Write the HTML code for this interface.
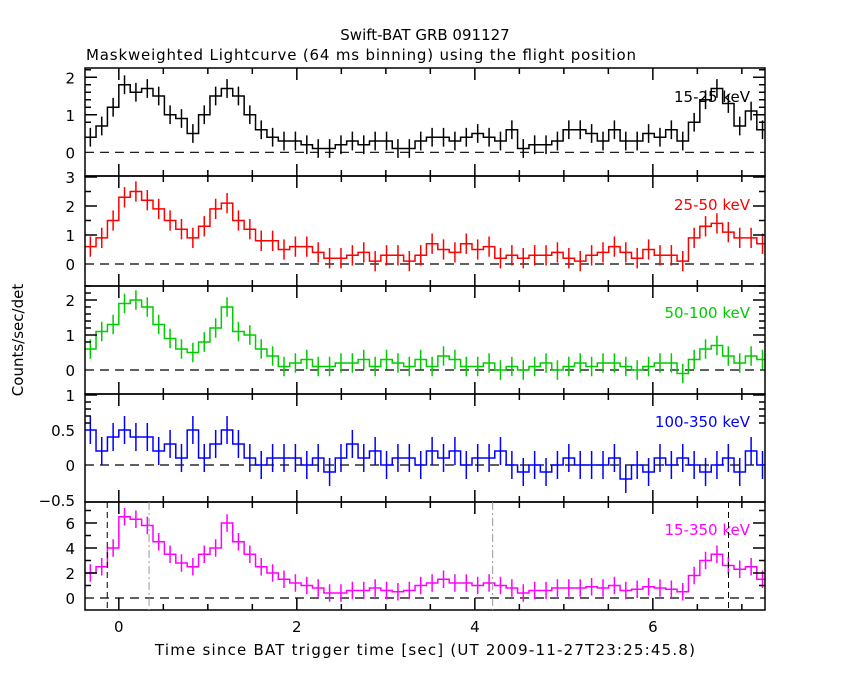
<!DOCTYPE html>
<html><head><meta charset="utf-8"><style>
body{margin:0;background:#fff}
svg text{font-family:"DejaVu Sans","Liberation Sans",sans-serif;font-size:15px}
</style></head><body>
<svg id="chart" width="850" height="680" xmlns="http://www.w3.org/2000/svg">
<rect width="850" height="680" fill="#fff"/>
<text x="425" y="40" text-anchor="middle">Swift-BAT GRB 091127</text>
<text x="86" y="60" textLength="550">Maskweighted Lightcurve (64 ms binning) using the flight position</text>
<text transform="translate(23,340) rotate(-90)" text-anchor="middle">Counts/sec/det</text>
<text x="425" y="655" text-anchor="middle" textLength="540">Time since BAT trigger time [sec] (UT 2009-11-27T23:25:45.8)</text>
<g id="plots"></g>
</svg>
<script>
const binStart = -0.384;
const binWidth = 0.128;
const s1 = [0.4,0.7,1.2,1.8,1.6,1.7,1.5,1.0,0.9,0.5,1.0,1.5,1.7,1.5,1.0,0.6,0.4,0.3,0.3,0.2,0.1,0.1,0.2,0.3,0.2,0.3,0.3,0.1,0.1,0.3,0.4,0.4,0.3,0.4,0.5,0.4,0.3,0.6,0.1,0.2,0.2,0.3,0.6,0.6,0.5,0.3,0.6,0.3,0.3,0.5,0.4,0.6,0.3,0.8,1.4,1.7,1.3,0.7,1.1,0.6];
const s2 = [0.6,0.9,1.5,2.3,2.5,2.2,1.9,1.5,1.2,0.9,1.3,1.9,2.1,1.5,1.2,0.8,0.8,0.5,0.6,0.6,0.4,0.2,0.2,0.3,0.4,0.1,0.3,0.3,0.1,0.3,0.7,0.5,0.4,0.7,0.5,0.6,0.2,0.3,0.2,0.3,0.3,0.4,0.2,0.1,0.3,0.4,0.6,0.4,0.2,0.5,0.3,0.3,0.1,0.9,1.3,1.4,1.1,0.9,0.9,0.7];
const s3 = [0.6,1.1,1.3,1.9,2.0,1.8,1.3,0.9,0.6,0.5,0.8,1.2,1.8,1.1,1.0,0.6,0.4,0.1,0.2,0.3,0.1,0.1,0.2,0.2,0.3,0.1,0.3,0.2,0.1,0.3,0.1,0.4,0.3,0.1,0.1,0.2,0.0,0.1,0.0,0.1,0.2,0.0,0.1,0.2,0.1,0.2,0.2,0.1,0.0,0.1,0.2,0.2,-0.1,0.3,0.6,0.7,0.4,0.2,0.4,0.3];
const s4 = [0.5,0.2,0.4,0.5,0.4,0.4,0.2,0.3,0.1,0.5,0.1,0.3,0.5,0.3,0.1,0.0,0.1,0.1,0.1,0.0,0.1,-0.1,0.1,0.3,0.1,0.2,0.0,0.1,0.1,0.0,0.2,0.1,0.2,0.0,0.1,0.1,0.2,0.0,-0.1,0.0,-0.1,0.0,0.1,0.0,0.0,0.0,0.1,-0.2,0.0,-0.1,0.1,0.0,0.1,0.0,-0.1,0.0,0.1,-0.1,0.2,0.0];
const s5 = [2.0,2.5,4.0,6.5,6.3,5.8,4.5,3.5,2.8,2.5,3.5,4.0,6.0,4.5,3.5,2.5,2.0,1.5,1.2,1.0,0.8,0.4,0.4,0.6,0.6,0.8,0.6,0.5,0.6,1.0,1.2,1.5,1.2,1.2,1.0,1.2,1.0,0.8,0.4,0.6,0.6,0.8,0.8,0.8,0.9,0.8,1.0,0.6,0.7,0.9,0.8,0.7,0.5,1.8,3.0,3.5,2.6,2.3,2.5,1.5];
const errs = [0.25,0.35,0.28,0.2,0.7];
const bandLabels = ["15-25 keV","25-50 keV","50-100 keV","100-350 keV","15-350 keV"];
const yTickLabels = [[0,1,2],[0,1,2,3],[0,1,2],[-0.5,0,0.5,1],[0,2,4,6]];
const xTickLabels = [0,2,4,6];
const markerTimes = [-0.13,6.85];
const dashDotTimes = [0.34,4.2];

const NS="http://www.w3.org/2000/svg";
const g=document.getElementById('plots');
const X0=85,X1=765,T0=-0.38,T1=7.26;
const xs=t=>X0+(t-T0)/(T1-T0)*(X1-X0);
const panels=[
 {top:68,bot:176,zero:152.3,ppu:37.5,minor:0.2,col:'#000',data:s1,ly:102},
 {top:176,bot:286,zero:264,ppu:29,minor:0.5,col:'#f00',data:s2,ly:210},
 {top:286,bot:394,zero:370,ppu:35,minor:0.2,col:'#0c0',data:s3,ly:318},
 {top:394,bot:502,zero:465,ppu:70,minor:0.1,col:'#00f',data:s4,ly:427},
 {top:502,bot:610,zero:598,ppu:12.5,minor:1,col:'#f0f',data:s5,ly:535}
];
function el(tag,attrs,parent){const e=document.createElementNS(NS,tag);for(const k in attrs)e.setAttribute(k,attrs[k]);(parent||g).appendChild(e);return e;}
panels.forEach((p,i)=>{
 const pg=el('g',{});
 
 
 const ys=v=>p.zero-v*p.ppu;
 const z=el('line',{x1:X0,x2:X1,y1:ys(0),y2:ys(0),stroke:'#000','stroke-dasharray':'9,6','stroke-width':1.2},pg);
 
 
 let d='';
 p.data.forEach((v,k)=>{const xa=xs(binStart+k*binWidth),xb=xs(binStart+(k+1)*binWidth);const y=ys(v);d+=(k?'L':'M')+Math.max(X0,xa)+','+y+'L'+Math.min(X1,xb)+','+y;});
 const pl=el('path',{d:d,fill:'none',stroke:p.col,'stroke-width':1.5},pg);
 
 
 let ed='';
 p.data.forEach((v,k)=>{const xm=xs(binStart+(k+0.5)*binWidth);ed+='M'+xm+','+Math.max(p.top,ys(v+errs[i]))+'L'+xm+','+Math.min(p.bot,ys(v-errs[i]));});
 const eb=el('path',{d:ed,fill:'none',stroke:p.col,'stroke-width':1.5},pg);
 
 
 const fr=el('rect',{x:X0,y:p.top,width:X1-X0,height:p.bot-p.top,fill:'none',stroke:'#000','stroke-width':1.5},pg);
 
 
 let td='';
 const lo=(p.zero-p.bot)/p.ppu*-1, hi=(p.zero-p.top)/p.ppu;
 for(let v=Math.ceil(lo/p.minor)*p.minor;v<=hi+1e-9;v+=p.minor){const y=ys(v);const major=yTickLabels[i].some(t=>Math.abs(t-v)<1e-6);const L=major?12:6;td+='M'+X0+','+y+'h'+L+'M'+X1+','+y+'h'+(-L);}
 for(let t=-0.25;t<=7.25;t+=0.25){const x=xs(t);const major=Math.abs(t/2-Math.round(t/2))<1e-6;const L=major?12:(Math.abs(t*2-Math.round(t*2))<1e-6?6:0);if(L)td+='M'+x+','+p.bot+'v'+(-L)+'M'+x+','+p.top+'v'+L;}
 const tk=el('path',{d:td,stroke:'#000','stroke-width':1.5,fill:'none'},pg);
 
 
 yTickLabels[i].forEach(v=>{const tx=el('text',{x:75,y:ys(v)+6,'text-anchor':'end'},pg);tx.textContent=(v<0?'\u2212':'')+Math.abs(v);
  
  });
 const lb=el('text',{x:750,y:p.ly,'text-anchor':'end',fill:p.col},pg);lb.textContent=bandLabels[i];
 
 
 if(i===4){
  markerTimes.forEach(t=>{const m=el('line',{x1:xs(t),x2:xs(t),y1:p.top,y2:p.bot,stroke:'#000','stroke-dasharray':'6,4'},pg);
   
   });
  dashDotTimes.forEach(t=>{const m=el('line',{x1:xs(t),x2:xs(t),y1:p.top,y2:p.bot,stroke:'#999','stroke-dasharray':'8,3,2,3'},pg);
   
   });
  xTickLabels.forEach(t=>{const tx=el('text',{x:xs(t),y:632,'text-anchor':'middle'},pg);tx.textContent=t;
   
   });
 }
});
</script>
</body></html>
